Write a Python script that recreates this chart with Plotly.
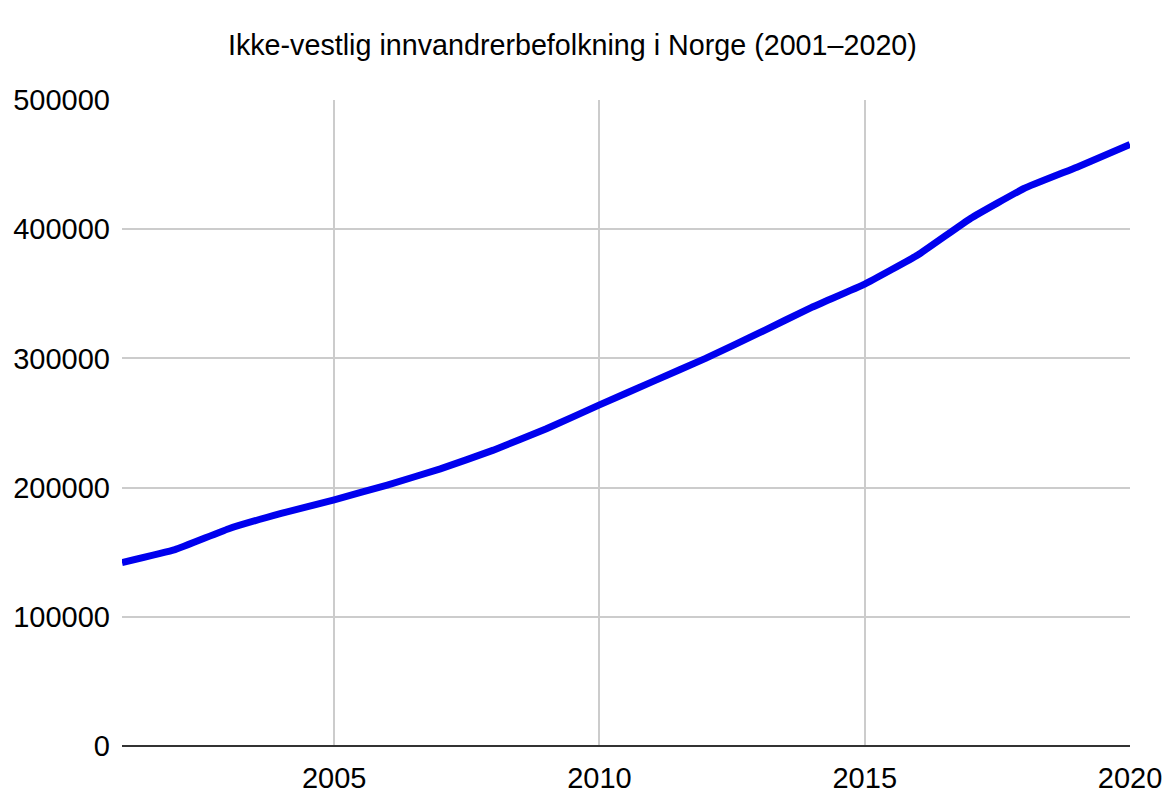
import plotly.graph_objects as go

years = list(range(2001, 2021))
population = [142000, 152000, 168000, 180000, 190500, 202000, 214500, 229000, 245500,
              264000, 282000, 300000, 319500, 339500, 357500, 380000, 408500, 431500,
              448000, 465500]
title_text = "Ikke-vestlig innvandrerbefolkning i Norge (2001–2020)"
y_ticks = [0, 100000, 200000, 300000, 400000, 500000]
x_ticks = [2005, 2010, 2015, 2020]

fig = go.Figure()
fig.add_trace(go.Scatter(
    x=years, y=population, mode="lines",
    line=dict(color="#0000ee", width=7, shape="spline", smoothing=0.3),
    showlegend=False, hoverinfo="x+y",
))

font_family = "Liberation Sans, Arial, sans-serif"
fig.update_layout(
    width=1167, height=806,
    margin=dict(l=122, r=37, t=100, b=60),
    paper_bgcolor="white", plot_bgcolor="white",
    font=dict(family=font_family, color="#000000", size=29),
    title=dict(text=title_text, x=0.4905, xref="container", xanchor="center",
               y=0.944, yref="container", yanchor="middle",
               font=dict(size=28.7, family=font_family, color="#000")),
)
fig.update_xaxes(
    range=[2001, 2020], tickvals=x_ticks, ticktext=[str(v) for v in x_ticks],
    showgrid=True, gridcolor="#cccccc", gridwidth=1.5,
    zeroline=False, showline=False, ticks="", automargin=False,
    ticklabeloverflow="allow",
    tickfont=dict(size=29), ticklabelstandoff=12,
)
fig.update_yaxes(
    range=[0, 500000], tickvals=y_ticks, ticktext=[str(v) for v in y_ticks],
    showgrid=True, gridcolor="#cccccc", gridwidth=1.5,
    zeroline=True, zerolinecolor="#333333", zerolinewidth=2,
    showline=False, ticks="", automargin=False,
    tickfont=dict(size=29), ticklabelstandoff=11,
)
fig.write_html(
    "out.html",
    config={"displayModeBar": False},
    post_script="document.body.style.margin='0';document.body.style.overflow='hidden';",
)
